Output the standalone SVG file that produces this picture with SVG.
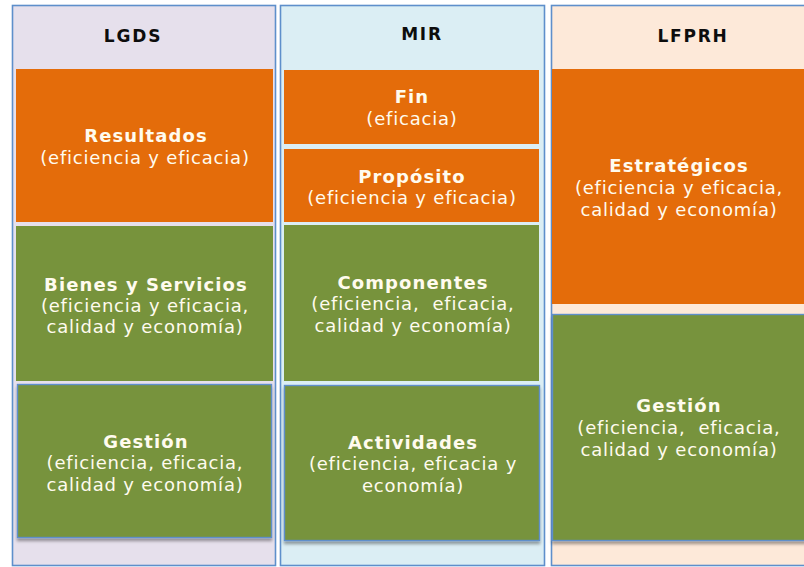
<svg xmlns="http://www.w3.org/2000/svg" width="804" height="567" viewBox="0 0 804 567">
<defs>
<filter id="sh" x="-5%" y="-5%" width="110%" height="115%">
<feDropShadow dx="0" dy="3" stdDeviation="1.5" flood-color="#000" flood-opacity="0.35"/>
</filter>
<style>
.col{stroke:#5E8FCB;stroke-width:1.6}
.or{fill:#E46C0A}
.gr{fill:#77933C}
.bd{stroke:#5E8FCB;stroke-width:1.4}
text{font-family:"DejaVu Sans",Verdana,sans-serif;text-anchor:middle;white-space:pre}
.hd{font-size:17px;font-weight:bold;fill:#0D0D0D;letter-spacing:1.8px}
.t{font-size:18px;font-weight:bold;fill:#FFFBEE;letter-spacing:1.1px}
.b{font-size:18px;fill:#FFFBEE;letter-spacing:0.8px}
</style>
</defs>
<g id="col-lgds">
<rect class="col" x="12.5" y="5.5" width="263" height="560" fill="#E6E0EC"/>
<text class="hd" x="133" y="42">LGDS</text>
</g>
<g id="col-mir">
<rect class="col" x="280.5" y="5.5" width="264" height="560" fill="#DBEEF4"/>
<text class="hd" x="422" y="40">MIR</text>
</g>
<g id="col-lfprh">
<rect class="col" x="551.5" y="5.5" width="262" height="560" fill="#FDE9D9"/>
<text class="hd" x="693" y="42">LFPRH</text>
</g>
<g id="resultados">
<rect class="or" x="16" y="69" width="257" height="153"/>
<text class="t" x="146" y="142">Resultados</text>
<text class="b" x="145" y="164">(eficiencia y eficacia)</text>
</g>
<g id="bienes">
<rect class="gr" x="16" y="226" width="257" height="155"/>
<text class="t" x="146" y="291">Bienes y Servicios</text>
<text class="b" x="145" y="312">(eficiencia y eficacia,</text>
<text class="b" x="145" y="333">calidad y economía)</text>
</g>
<g id="gestion-lgds">
<rect class="gr bd" x="17.5" y="384.5" width="254" height="153" filter="url(#sh)"/>
<text class="t" x="146" y="448">Gestión</text>
<text class="b" x="145" y="469">(eficiencia, eficacia,</text>
<text class="b" x="145" y="491">calidad y economía)</text>
</g>
<g id="fin">
<rect class="or" x="284" y="70" width="255" height="74"/>
<text class="t" x="412" y="103">Fin</text>
<text class="b" x="412" y="125">(eficacia)</text>
</g>
<g id="proposito">
<rect class="or" x="284" y="149" width="255" height="73"/>
<text class="t" x="412" y="183">Propósito</text>
<text class="b" x="412" y="204">(eficiencia y eficacia)</text>
</g>
<g id="componentes">
<rect class="gr" x="284" y="225" width="255" height="156"/>
<text class="t" x="413" y="289">Componentes</text>
<text class="b" x="413" y="310">(eficiencia,  eficacia,</text>
<text class="b" x="413" y="332">calidad y economía)</text>
</g>
<g id="actividades">
<rect class="gr bd" x="284.5" y="385.5" width="255" height="155" filter="url(#sh)"/>
<text class="t" x="413" y="449">Actividades</text>
<text class="b" x="413" y="470">(eficiencia, eficacia y</text>
<text class="b" x="413" y="492">economía)</text>
</g>
<g id="estrategicos">
<rect class="or" x="552" y="69" width="254" height="235"/>
<text class="t" x="679" y="172">Estratégicos</text>
<text class="b" x="679" y="194">(eficiencia y eficacia,</text>
<text class="b" x="679" y="216">calidad y economía)</text>
</g>
<g id="gestion-lfprh">
<rect class="gr bd" x="552.5" y="314.5" width="262" height="226" filter="url(#sh)"/>
<text class="t" x="679" y="412">Gestión</text>
<text class="b" x="679" y="434">(eficiencia,  eficacia,</text>
<text class="b" x="679" y="456">calidad y economía)</text>
</g>
<g id="connectors"></g>
</svg>
